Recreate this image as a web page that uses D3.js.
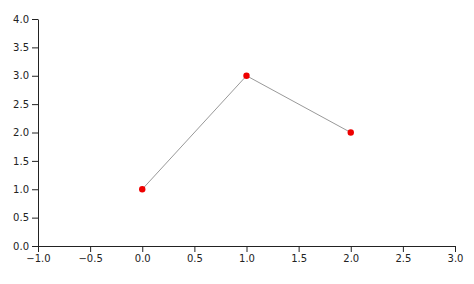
<!DOCTYPE html>
<html><head><meta charset="utf-8">
<script src="https://cdn.jsdelivr.net/npm/d3@7"></script>
<style>body{margin:0;background:#fff}svg{display:block}</style>
</head><body><svg id="c" width="474" height="284"></svg>
<script>
const xValues = [0, 1, 2];
const yValues = [1, 3, 2];
const xTicks = [-1, -0.5, 0, 0.5, 1, 1.5, 2, 2.5, 3];
const yTicks = [0, 0.5, 1, 1.5, 2, 2.5, 3, 3.5, 4];

const W = 474, H = 284, m = {top: 19, right: 19, bottom: 38, left: 38};
const svg = d3.select("#c");
const x = d3.scaleLinear().domain([-1, 3]).range([m.left, W - m.right]);
const y = d3.scaleLinear().domain([0, 4]).range([H - m.bottom, m.top]);

const fmt = d3.format(".1f");
const gx = svg.append("g").attr("transform", `translate(0,${H - m.bottom})`)
  .call(d3.axisBottom(x).tickValues(xTicks).tickFormat(fmt).tickSizeOuter(0));
const gy = svg.append("g").attr("transform", `translate(${m.left},0)`)
  .call(d3.axisLeft(y).tickValues(yTicks).tickFormat(fmt).tickSizeOuter(0));
[gx, gy].forEach(g => {
  g.selectAll("text").attr("font-family", "DejaVu Sans").attr("font-size", 10).attr("fill", "#222");
  g.selectAll("path,line").attr("stroke", "#222");
});

const data = xValues.map((v, i) => ({x: v, y: yValues[i]}));
svg.append("path").datum(data)
  .attr("fill", "none").attr("stroke", "#999").attr("stroke-width", 1)
  .attr("d", d3.line().x(d => x(d.x)).y(d => y(d.y)));
svg.selectAll("circle").data(data).join("circle")
  .attr("cx", d => x(d.x)).attr("cy", d => y(d.y)).attr("r", 3.2).attr("fill", "#ee0000");
</script></body></html>
